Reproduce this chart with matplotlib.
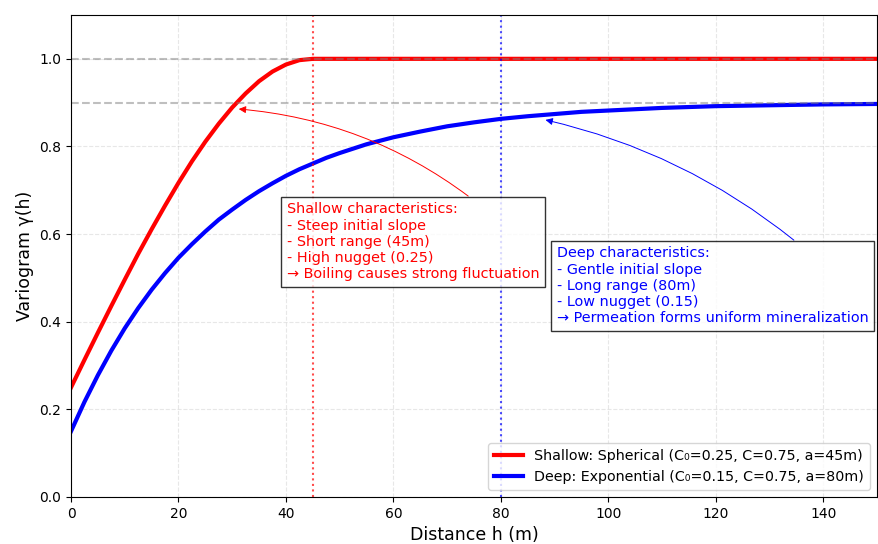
import matplotlib
matplotlib.use("Agg")
import matplotlib.pyplot as plt

# distances (m) and variogram values
h = [0, 2.5, 5, 7.5, 10, 12.5, 15, 17.5, 20, 22.5, 25, 27.5, 30, 32.5, 35,
     37.5, 40, 42.5, 45, 47.5, 50, 55, 60, 65, 70, 75, 80, 85, 90, 95, 100,
     110, 120, 130, 140, 150]
shallow = [0.250, 0.313, 0.375, 0.436, 0.496, 0.555, 0.611, 0.665, 0.717,
           0.766, 0.811, 0.852, 0.889, 0.921, 0.949, 0.971, 0.987, 0.997,
           1.0, 1.0, 1.0, 1.0, 1.0, 1.0, 1.0, 1.0, 1.0, 1.0, 1.0, 1.0, 1.0,
           1.0, 1.0, 1.0, 1.0, 1.0]
deep = [0.150, 0.217, 0.278, 0.334, 0.385, 0.431, 0.473, 0.511, 0.546,
        0.577, 0.606, 0.633, 0.656, 0.678, 0.698, 0.716, 0.733, 0.748,
        0.761, 0.774, 0.785, 0.805, 0.821, 0.834, 0.846, 0.855, 0.863,
        0.869, 0.874, 0.879, 0.882, 0.888, 0.892, 0.894, 0.896, 0.897]
shallow_range, deep_range = 45, 80
shallow_sill, deep_sill = 1.0, 0.9

fig = plt.figure(figsize=(8.79, 5.44), dpi=100)
ax = fig.add_axes([0.0808, 0.0864, 0.9169, 0.886])

ax.plot(h, shallow, color="red", lw=3,
        label="Shallow: Spherical (C\u2080=0.25, C=0.75, a=45m)")
ax.plot(h, deep, color="blue", lw=3,
        label="Deep: Exponential (C\u2080=0.15, C=0.75, a=80m)")

ax.axhline(shallow_sill, color="gray", ls="--", lw=1.5, alpha=0.5)
ax.axhline(deep_sill, color="gray", ls="--", lw=1.5, alpha=0.5)
ax.axvline(shallow_range, color="red", ls=":", lw=1.5, alpha=0.7)
ax.axvline(deep_range, color="blue", ls=":", lw=1.5, alpha=0.7)

ax.annotate("Shallow characteristics:\n- Steep initial slope\n- Short range (45m)\n"
            "- High nugget (0.25)\n\u2192 Boiling causes strong fluctuation",
            xy=(30.7, 0.886), xytext=(40.19, 0.4926), color="red", fontsize=10.4,
            va="bottom", ha="left",
            bbox=dict(boxstyle="square,pad=0.4", facecolor="white", edgecolor="black", alpha=0.8),
            arrowprops=dict(arrowstyle="-|>", color="red", lw=0.7, relpos=(0.75, 1.0),
                            shrinkA=0, connectionstyle="arc3,rad=0.15"))
ax.annotate("Deep characteristics:\n- Gentle initial slope\n- Long range (80m)\n"
            "- Low nugget (0.15)\n\u2192 Permeation forms uniform mineralization",
            xy=(87.8, 0.862), xytext=(90.42, 0.392), color="blue", fontsize=10.4,
            va="bottom", ha="left",
            bbox=dict(boxstyle="square,pad=0.4", facecolor="white", edgecolor="black", alpha=0.8),
            arrowprops=dict(arrowstyle="-|>", color="blue", lw=0.7, relpos=(0.785, 1.0),
                            shrinkA=0, connectionstyle="arc3,rad=0.12"))

ax.set_xlim(0, 150)
ax.set_ylim(0, 1.1)
ax.set_xlabel("Distance h (m)", fontsize=12.5)
ax.set_ylabel("Variogram \u03b3(h)", fontsize=12.5)
ax.grid(True, ls="--", alpha=0.3)
ax.legend(loc="lower right", fontsize=10.3)

fig.savefig("out.png", dpi=100)
